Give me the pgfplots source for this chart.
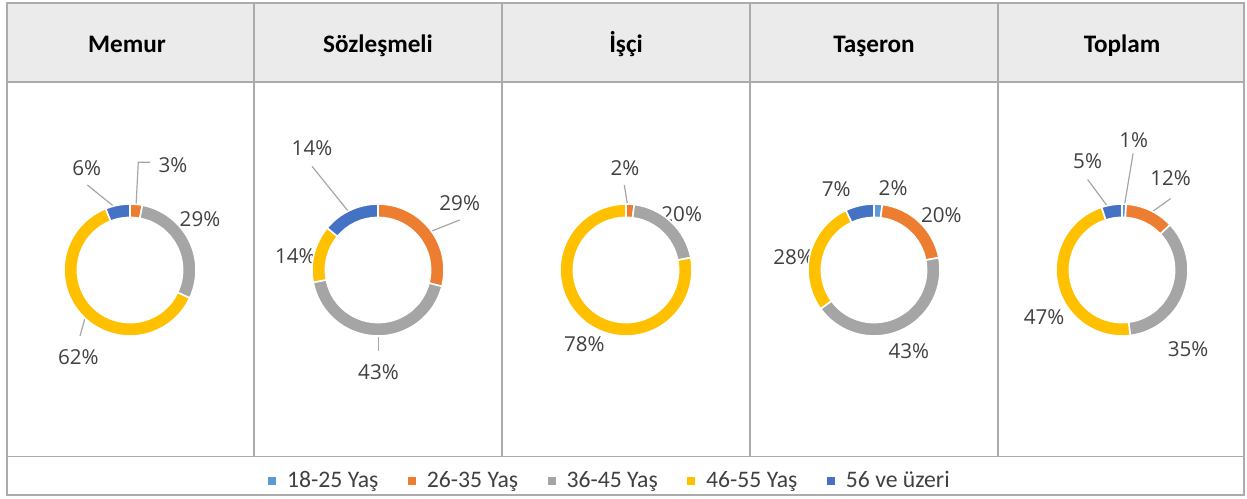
\documentclass[border=0pt]{standalone}
\usepackage{pgfplots}
\pgfplotsset{compat=1.18}
\usepackage{pgfplotstable}
\usepackage{fontspec}
\setmainfont{Carlito}
\newfontfamily\labelfont{Open Sans}
\definecolor{seg0}{HTML}{5B9BD5}
\definecolor{seg1}{HTML}{ED7D31}
\definecolor{seg2}{HTML}{A5A5A5}
\definecolor{seg3}{HTML}{FFC000}
\definecolor{seg4}{HTML}{4472C4}
\definecolor{gridc}{HTML}{ABABAB}
\definecolor{hdrfill}{HTML}{EBEBEB}
\definecolor{lbl}{HTML}{404040}
\definecolor{lead}{HTML}{A6A6A6}

% seg = age group, val = share (%), start = cumulative share before it, cx cy = centre of the donut (px)
\pgfplotstableread{
seg val start cx cy
0 0 0 130 270
1 3 0 130 270
2 29 3 130 270
3 62 32 130 270
4 6 94 130 270
}\memur
\pgfplotstableread{
seg val start cx cy
0 0 0 378 270
1 29 0 378 270
2 43 29 378 270
3 14 72 378 270
4 14 86 378 270
}\sozlesmeli
\pgfplotstableread{
seg val start cx cy
0 0 0 626 270
1 2 0 626 270
2 20 2 626 270
3 78 22 626 270
4 0 100 626 270
}\isci
\pgfplotstableread{
seg val start cx cy
0 2 0 874 270
1 20 2 874 270
2 43 22 874 270
3 28 65 874 270
4 7 93 874 270
}\taseron
\pgfplotstableread{
seg val start cx cy
0 1 0 1122 270
1 12 1 1122 270
2 35 13 1122 270
3 47 48 1122 270
4 5 95 1122 270
}\toplam

\pgfplotsset{
  donut/.style={
    scatter, only marks, forget plot,
    mark=*, mark size=0pt, mark options={draw=white, fill=white},
    visualization depends on={\thisrow{seg} \as \dseg},
    visualization depends on={\thisrow{val} \as \dval},
    visualization depends on={\thisrow{start} \as \dst},
    scatter/@pre marker code/.code={%
      \pgfmathtruncatemacro\segi{\dseg}%
      \pgfmathsetmacro\aA{90-3.6*\dst}%
      \pgfmathsetmacro\aB{90-3.6*(\dst+\dval)}%
      \path[fill=seg\segi, draw=white, line width=0.8pt]
        (\aA:33pt) arc[start angle=\aA, end angle=\aB, radius=33pt]
        -- (\aB:26.3pt) arc[start angle=\aB, end angle=\aA, radius=26.3pt] -- cycle;
    },
    scatter/@post marker code/.code={},
  },
}
\newcommand\lblfont{\labelfont\fontsize{10.3}{12}\selectfont}
\newcommand\legfont{\fontsize{11.85}{14}\selectfont}
\newcommand\hdrfont{\fontsize{12.6}{14}\selectfont\bfseries}
\tikzset{lab/.style={font=\lblfont, text=lbl, inner sep=0pt},
         hdrtxt/.style={anchor=base, text=black, font=\hdrfont, inner sep=0pt}}

\begin{document}
\begin{tikzpicture}
\begin{axis}[
  x=0.5pt, y=0.5pt, y dir=reverse,
  xmin=0, xmax=1247, ymin=0, ymax=498,
  hide axis, clip=false,
  legend columns=5,
  legend style={at={(axis cs:611,481)}, anchor=center, draw=none, fill=none,
    font=\legfont, text=lbl,
    /tikz/every odd column/.append style={column sep=3.5pt},
    /tikz/every even column/.append style={column sep=12.8pt}},
  legend image code/.code={\fill[#1] (0pt,-1.75pt) rectangle (3.5pt,1.75pt);},
]
\path (axis cs:0,0) rectangle (axis cs:1247,498);
% table frame
\fill[hdrfill] (axis cs:6.5,2.7) rectangle (axis cs:1244.3,82.3);
\draw[gridc, line width=0.4pt] (axis cs:6.5,456) -- (axis cs:1244.3,456);
\draw[gridc, line width=1pt] (axis cs:6.5,82.3) -- (axis cs:1244.3,82.3);
\draw[gridc, line width=1pt] (axis cs:254,2.7) -- (axis cs:254,456);
\draw[gridc, line width=1pt] (axis cs:502,2.7) -- (axis cs:502,456);
\draw[gridc, line width=1pt] (axis cs:750,2.7) -- (axis cs:750,456);
\draw[gridc, line width=1pt] (axis cs:998,2.7) -- (axis cs:998,456);
\draw[gridc, line width=1pt] (axis cs:6.5,2.7) rectangle (axis cs:1244.3,495.3);
% headers
\node[hdrtxt] at (axis cs:127,53) {Memur};
\node[hdrtxt] at (axis cs:378,53) {Sözleşmeli};
\node[hdrtxt] at (axis cs:626,53) {İşçi};
\node[hdrtxt] at (axis cs:874,53) {Taşeron};
\node[hdrtxt] at (axis cs:1122,53) {Toplam};

% donuts
\addplot[donut] table[x=cx, y=cy] {\memur};
\addplot[donut] table[x=cx, y=cy] {\sozlesmeli};
\addplot[donut] table[x=cx, y=cy] {\isci};
\addplot[donut] table[x=cx, y=cy] {\taseron};
\addplot[donut] table[x=cx, y=cy] {\toplam};

% leader lines
\draw[lead, line width=0.6pt] (axis cs:150,162.3) -- (axis cs:138.3,162.3) -- (axis cs:135.5,216);
\draw[lead, line width=0.6pt] (axis cs:87.3,185) -- (axis cs:118.3,210);
\draw[lead, line width=0.6pt] (axis cs:80,336) -- (axis cs:87.3,310);
\draw[lead, line width=0.6pt] (axis cs:312,166.3) -- (axis cs:352.3,216.3);
\draw[lead, line width=0.6pt] (axis cs:459.7,220) -- (axis cs:426,233.4);
\draw[lead, line width=0.6pt] (axis cs:378.5,337.4) -- (axis cs:378.5,351.5);
\draw[lead, line width=0.6pt] (axis cs:624.3,185) -- (axis cs:628.3,210);
\draw[lead, line width=0.6pt] (axis cs:1133.1,153.4) -- (axis cs:1123.7,209.6);
\draw[lead, line width=0.6pt] (axis cs:1087.6,179.5) -- (axis cs:1110.4,210.3);
\draw[lead, line width=0.6pt] (axis cs:1170.6,198.6) -- (axis cs:1147.2,215.3);

% data labels
\node[lab] at (axis cs:173,165) {3\%};
\node[lab] at (axis cs:86.7,168.3) {6\%};
\node[lab] at (axis cs:200,219.3) {29\%};
\node[lab] at (axis cs:78.3,357.3) {62\%};
\node[lab] at (axis cs:312,148.5) {14\%};
\node[lab] at (axis cs:459.7,202.9) {29\%};
\node[lab] at (axis cs:295.3,255.9) {14\%};
\node[lab] at (axis cs:378.5,372.3) {43\%};
\node[lab] at (axis cs:625,168.3) {2\%};
\node[lab] at (axis cs:681.7,214.3) {20\%};
\node[lab] at (axis cs:584.3,344) {78\%};
\node[lab] at (axis cs:836.3,189.6) {7\%};
\node[lab] at (axis cs:893.1,187.9) {2\%};
\node[lab] at (axis cs:941.3,215.3) {20\%};
\node[lab] at (axis cs:793.5,257.1) {28\%};
\node[lab] at (axis cs:908.9,350.8) {43\%};
\node[lab] at (axis cs:1133.8,140) {1\%};
\node[lab] at (axis cs:1087.6,160.8) {5\%};
\node[lab] at (axis cs:1170.6,178.5) {12\%};
\node[lab] at (axis cs:1044.1,316.7) {47\%};
\node[lab] at (axis cs:1188,349.1) {35\%};

% legend
\addlegendimage{seg0}\addlegendentry{18-25 Yaş}
\addlegendimage{seg1}\addlegendentry{26-35 Yaş}
\addlegendimage{seg2}\addlegendentry{36-45 Yaş}
\addlegendimage{seg3}\addlegendentry{46-55 Yaş}
\addlegendimage{seg4}\addlegendentry{56 ve üzeri}
\end{axis}
\end{tikzpicture}
\end{document}
